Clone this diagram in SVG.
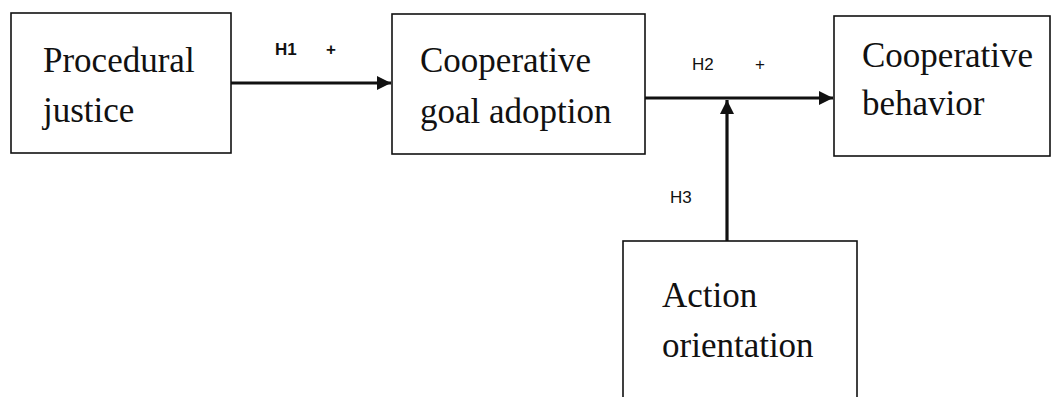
<svg xmlns="http://www.w3.org/2000/svg" width="1056" height="397" viewBox="0 0 1056 397">
<defs>
<style>
.box{fill:#fff;stroke:#111;stroke-width:1.6}
.t{font-family:"Liberation Sans",sans-serif;font-size:35px;fill:#111}
.t{font-family:"Liberation Serif",serif}
.h{font-family:"Liberation Sans",sans-serif;font-size:17px;fill:#111}
.b{font-weight:bold}
.c{stroke:#111;stroke-width:3.2;fill:none}
</style>
<marker id="ah" viewBox="0 0 10 10" refX="10" refY="5" markerWidth="4.5" markerHeight="4.5" orient="auto" markerUnits="strokeWidth">
<path d="M0,0 L10,5 L0,10 Z" fill="#111"/>
</marker>
</defs>
<rect width="1056" height="397" fill="#fff"/>
<g id="connectors">
<line class="c" x1="231" y1="83" x2="391" y2="83" marker-end="url(#ah)"/>
<line class="c" x1="645" y1="98" x2="833" y2="98" marker-end="url(#ah)"/>
<line class="c" x1="727" y1="241" x2="727" y2="100" marker-end="url(#ah)"/>
<text class="h b" x="275" y="55">H1</text>
<text class="h b" x="326" y="55">+</text>
<text class="h" x="692" y="70">H2</text>
<text class="h" x="755" y="70">+</text>
<text class="h" x="670" y="203">H3</text>
</g>
<g id="procedural">
<rect class="box" x="11" y="13" width="220" height="140"/>
<text class="t" x="43" y="72">Procedural</text>
<text class="t" x="43" y="122">justice</text>
</g>
<g id="goal">
<rect class="box" x="392" y="14" width="253" height="140"/>
<text class="t" x="420" y="72">Cooperative</text>
<text class="t" x="420" y="123">goal adoption</text>
</g>
<g id="behavior">
<rect class="box" x="834" y="16" width="216" height="140"/>
<text class="t" x="862" y="67">Cooperative</text>
<text class="t" x="862" y="115">behavior</text>
</g>
<g id="action">
<rect class="box" x="623" y="241" width="234" height="170"/>
<text class="t" x="662" y="307">Action</text>
<text class="t" x="662" y="357">orientation</text>
</g>
</svg>
